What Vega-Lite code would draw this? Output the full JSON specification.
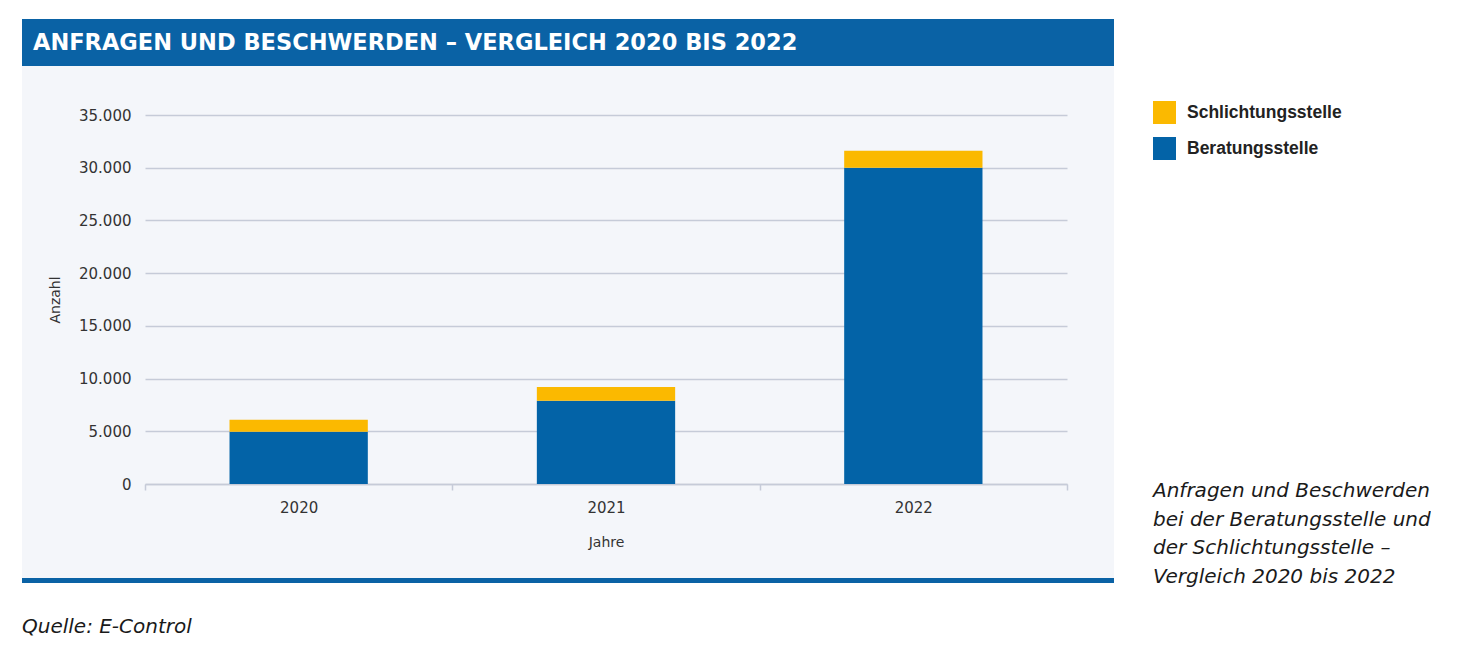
{
  "$schema": "https://vega.github.io/schema/vega-lite/v6.json",
  "background": "#ffffff",
  "padding": {"left": 22, "top": 19, "right": 0, "bottom": 0},
  "spacing": 0,
  "bounds": "flush",
  "config": {
    "locale": {"number": {"decimal": ",", "thousands": ".", "grouping": [3], "currency": ["", " €"]}},
    "axis": {
      "labelFont": "DejaVu Sans",
      "labelFontSize": 15,
      "labelColor": "#333333",
      "titleFont": "DejaVu Sans",
      "titleFontSize": 14,
      "titleFontWeight": "normal",
      "titleColor": "#333333"
    }
  },
  "vconcat": [
    {
      "width": 1092,
      "height": 47,
      "view": {"fill": "#0a62a5", "stroke": null},
      "data": {"values": [{"titel": "ANFRAGEN UND BESCHWERDEN – VERGLEICH 2020 BIS 2022"}]},
      "mark": {"type": "text", "align": "left", "baseline": "middle", "dx": 11, "font": "DejaVu Sans", "fontSize": 22.5, "fontWeight": "bold", "color": "#ffffff"},
      "encoding": {
        "text": {"field": "titel"},
        "x": {"datum": 0, "type": "quantitative", "scale": {"domain": [0, 1]}, "axis": null}
      }
    },
    {
      "width": 1092,
      "height": 512,
      "view": {"fill": "#f4f6fa", "stroke": null},
      "title": {
        "text": ["Anfragen und Beschwerden", "bei der Beratungsstelle und", "der Schlichtungsstelle –", "Vergleich 2020 bis 2022"],
        "orient": "bottom",
        "anchor": "end",
        "frame": "group",
        "align": "left",
        "baseline": "top",
        "dx": 39,
        "offset": -97,
        "lineHeight": 28.5,
        "font": "DejaVu Sans",
        "fontSize": 20,
        "fontStyle": "italic",
        "fontWeight": "normal",
        "color": "#1a1a1a"
      },
      "data": {
        "values": [
          {"Jahr": "2020", "Stelle": "Beratungsstelle", "Anzahl": 4950},
          {"Jahr": "2020", "Stelle": "Schlichtungsstelle", "Anzahl": 1150},
          {"Jahr": "2021", "Stelle": "Beratungsstelle", "Anzahl": 7900},
          {"Jahr": "2021", "Stelle": "Schlichtungsstelle", "Anzahl": 1300},
          {"Jahr": "2022", "Stelle": "Beratungsstelle", "Anzahl": 30000},
          {"Jahr": "2022", "Stelle": "Schlichtungsstelle", "Anzahl": 1600}
        ]
      },
      "mark": {"type": "bar", "width": {"band": 0.45}},
      "encoding": {
        "x": {
          "field": "Jahr",
          "type": "ordinal",
          "scale": {"type": "band", "paddingInner": 0, "paddingOuter": 0, "range": [123, 1045]},
          "axis": {
            "title": "Jahre",
            "offset": -94,
            "labelAngle": 0,
            "tickBand": "extent",
            "domainColor": "#c6cbd8",
            "domainWidth": 1.5,
            "tickColor": "#c6cbd8",
            "tickWidth": 1.5,
            "tickSize": 6,
            "labelPadding": 10,
            "titlePadding": 20,
            "grid": false
          }
        },
        "y": {
          "field": "Anzahl",
          "type": "quantitative",
          "stack": "zero",
          "scale": {"domain": [0, 35000], "range": [418, 49], "nice": false},
          "axis": {
            "title": "Anzahl",
            "offset": -123,
            "values": [0, 5000, 10000, 15000, 20000, 25000, 30000, 35000],
            "format": ",.0f",
            "grid": true,
            "gridColor": "#c6cbd8",
            "gridWidth": 1.5,
            "domain": false,
            "ticks": false,
            "labelPadding": 14,
            "titlePadding": 16
          }
        },
        "color": {
          "field": "Stelle",
          "type": "nominal",
          "scale": {"domain": ["Schlichtungsstelle", "Beratungsstelle"], "range": ["#fbb900", "#0363a7"]},
          "legend": {
            "orient": "none",
            "legendX": 1131,
            "legendY": 82,
            "title": null,
            "symbolType": "square",
            "symbolSize": 529,
            "symbolStrokeWidth": 0,
            "symbolOpacity": 1,
            "labelFont": "Liberation Sans",
            "labelFontSize": 17.5,
            "labelFontWeight": "bold",
            "labelColor": "#222222",
            "labelOffset": 11,
            "rowPadding": 13
          }
        },
        "order": {"field": "Stelle", "sort": "ascending"}
      }
    },
    {
      "width": 1092,
      "height": 5,
      "view": {"fill": "#0a62a5", "stroke": null},
      "title": {
        "text": "Quelle: E-Control",
        "orient": "bottom",
        "anchor": "start",
        "frame": "group",
        "baseline": "top",
        "offset": 34,
        "font": "DejaVu Sans",
        "fontSize": 20,
        "fontStyle": "italic",
        "fontWeight": "normal",
        "color": "#1a1a1a"
      },
      "data": {"values": []},
      "mark": "point"
    }
  ]
}
